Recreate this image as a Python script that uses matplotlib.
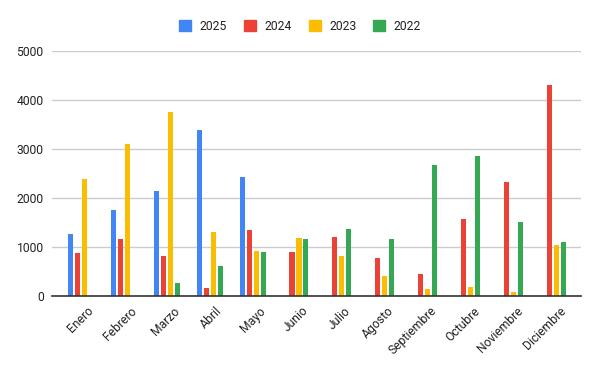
import numpy as np
from matplotlib import pyplot as plt
from matplotlib.patches import Patch
from matplotlib.transforms import ScaledTranslation

plt.rcParams["font.family"] = ["Roboto", "DejaVu Sans"]

months = ["Enero", "Febrero", "Marzo", "Abril", "Mayo", "Junio", "Julio",
          "Agosto", "Septiembre", "Octubre", "Noviembre", "Diciembre"]
nan = np.nan
v2025 = [1270, 1755, 2143, 3395, 2435, nan, nan, nan, nan, nan, nan, nan]
v2024 = [884, 1170, 823, 170, 1347, 905, 1204, 782, 449, 1571, 2327, 4313]
v2023 = [2388, 3102, 3762, 1306, 925, 1190, 823, 415, 150, 184, 82, 1041]
v2022 = [nan, nan, 265, 619, 905, 1163, 1374, 1163, 2673, 2864, 1510, 1109]

series = [("2025", v2025, "#4285F4"), ("2024", v2024, "#EA4335"),
          ("2023", v2023, "#FBBC04"), ("2022", v2022, "#34A853")]

fig = plt.figure(figsize=(6, 3.71), dpi=100)
ax = fig.add_axes([0.0867, 0.2022, 0.8816, 0.6595])

x = np.arange(len(months))
slot = 0.163
width = 0.118
for i, (name, vals, color) in enumerate(series):
    ax.bar(x + (i - 1.5) * slot, vals, width=width, color=color, zorder=3)

ax.set_xlim(-0.675, 11.655)
ax.set_ylim(0, 5000)
ax.set_yticks(range(0, 5001, 1000))
ax.yaxis.grid(True, color="#cccccc", linewidth=1, zorder=0)
for s in ["top", "right", "left"]:
    ax.spines[s].set_visible(False)
ax.spines["bottom"].set_color("#333333")
ax.spines["bottom"].set_linewidth(1.2)
ax.spines["bottom"].set_zorder(4)
ax.tick_params(axis="both", length=0, labelsize=8.7, labelcolor="#222222")
ax.tick_params(axis="y", pad=6)
ax.set_xticks(x)
ax.set_xticklabels(months, rotation=45, ha="right", va="top",
                   rotation_mode="anchor")
ax.tick_params(axis="x", pad=6)
shift = ScaledTranslation(0.06, 0, fig.dpi_scale_trans)
for label in ax.get_xticklabels():
    label.set_transform(label.get_transform() + shift)

handles = [Patch(color=c, label=n) for n, _, c in series]
fig.legend(handles=handles, loc="center", bbox_to_anchor=(0.5, 0.929),
           ncol=4, frameon=False, fontsize=8.7, handlelength=1.0,
           handleheight=1.0, handletextpad=0.7, columnspacing=1.4,
           labelcolor="#222222")

plt.savefig("out.png")
